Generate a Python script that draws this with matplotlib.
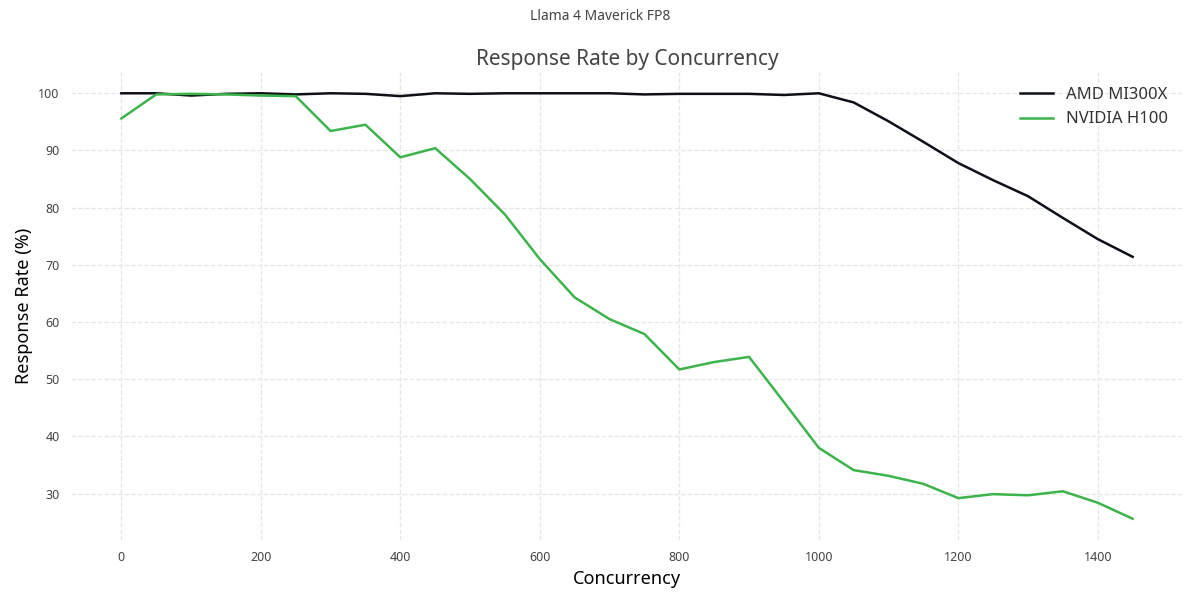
import matplotlib.pyplot as plt

concurrency = list(range(0, 1500, 50))
amd_mi300x = [100.0, 100.0, 99.6, 99.9, 100.0, 99.8, 100.0, 99.9, 99.5, 100.0,
              99.9, 100.0, 100.0, 100.0, 100.0, 99.8, 99.9, 99.9, 99.9, 99.7,
              100.0, 98.4, 95.1, 91.5, 87.8, 84.8, 82.0, 78.2, 74.5, 71.4]
nvidia_h100 = [95.6, 99.8, 99.9, 99.8, 99.6, 99.5, 93.4, 94.5, 88.8, 90.4,
               85.0, 78.8, 71.0, 64.3, 60.5, 57.9, 51.7, 53.0, 53.9, 46.0,
               38.0, 34.1, 33.1, 31.7, 29.2, 29.9, 29.7, 30.4, 28.4, 25.6]

plt.rcParams['font.family'] = ['Noto Sans', 'DejaVu Sans']

fig, ax = plt.subplots(figsize=(12, 6), dpi=100)
ax.plot(concurrency, amd_mi300x, color='#0d1117', linewidth=1.8, label='AMD MI300X')
ax.plot(concurrency, nvidia_h100, color='#3cb44b', linewidth=1.8, label='NVIDIA H100')

fig.suptitle('Llama 4 Maverick FP8', fontsize=10, color='#444444', y=0.985)
ax.set_title('Response Rate by Concurrency', fontsize=15, color='#444444', pad=5)
ax.set_xlabel('Concurrency', fontsize=13)
ax.set_ylabel('Response Rate (%)', fontsize=13)

ax.grid(True, linestyle='--', color='#e6e6e6', linewidth=0.9)
for s in ax.spines.values():
    s.set_visible(False)
ax.tick_params(length=0, labelsize=9, colors='#444444', pad=8)

leg = ax.legend(loc='upper right', frameon=False, fontsize=12)
for t in leg.get_texts():
    t.set_color('#333333')

fig.subplots_adjust(left=0.059, right=0.986, top=0.88, bottom=0.1)
fig.savefig('out.png')
